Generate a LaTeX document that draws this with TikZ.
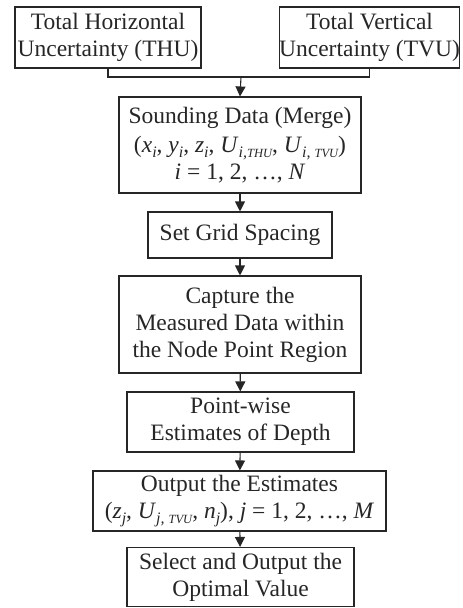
\documentclass[tikz,border=0pt]{standalone}
\usepackage{fontspec}
\setmainfont{Liberation Serif}
\usetikzlibrary{arrows.meta}
\newcommand{\lsub}[1]{\raisebox{-0.2em}{\fontsize{16}{16}\selectfont\itshape #1}}
\newcommand{\ssc}[1]{{\fontsize{12.5}{12.5}\selectfont #1}}
\begin{document}
\begin{tikzpicture}[x=1pt,y=-1pt,
  box/.style={draw=black!85, line width=1.1pt, inner sep=0pt, align=center,
    font=\fontsize{23.5}{27}\selectfont, text=black!85},
  arr/.style={-{Triangle[length=10pt,width=10pt]}, line width=1.1pt, draw=black!85},
  conn/.style={line width=1.1pt, draw=black!85}]
\useasboundingbox (0,0) rectangle (463,608);
\node[box, minimum width=186pt, minimum height=61pt] (thu) at (108,37.5)
  {Total Horizontal\\Uncertainty (THU)};
\node[box, minimum width=179pt, minimum height=61pt] (tvu) at (369.5,37.5)
  {Total Vertical\\Uncertainty (TVU)};
\node[box, minimum width=242pt, minimum height=96pt] (sound) at (240,145)
  {Sounding Data (Merge)\\[2pt]
   (\textit{x}\lsub{i}, \textit{y}\lsub{i}, \textit{z}\lsub{i}, \textit{U}\lsub{i,\ssc{THU}}, \textit{U}\lsub{i, \ssc{TVU}})\\
   \textit{i} = 1, 2, …, \textit{N}};
\node[box, minimum width=184pt, minimum height=46pt] (grid) at (240,235)
  {Set Grid Spacing};
\node[box, minimum width=242pt, minimum height=97pt] (capt) at (240,324.5)
  {Capture the\\Measured Data within\\the Node Point Region};
\node[box, minimum width=227pt, minimum height=60pt] (pw) at (240.5,422)
  {Point-wise\\Estimates of Depth};
\node[box, minimum width=293pt, minimum height=60pt] (out) at (239.5,501)
  {Output the Estimates\\
   (\textit{z}\lsub{j}, \textit{U}\lsub{j, \ssc{TVU}}, \textit{n}\lsub{j}), \textit{j} = 1, 2, …, \textit{M}};
\node[box, minimum width=227pt, minimum height=59pt] (sel) at (240.5,577)
  {Select and Output the\\Optimal Value};
\coordinate (j) at (241,77);
\draw[conn] (thu.south) |- (j) -| (tvu.south);
\draw[arr] (j) -- (sound.north);
\draw[arr] (sound) -- (grid);
\draw[arr] (grid) -- (capt);
\draw[arr] (capt) -- (pw);
\draw[arr] (pw) -- (out);
\draw[arr] (out) -- (sel);
\end{tikzpicture}
\end{document}
